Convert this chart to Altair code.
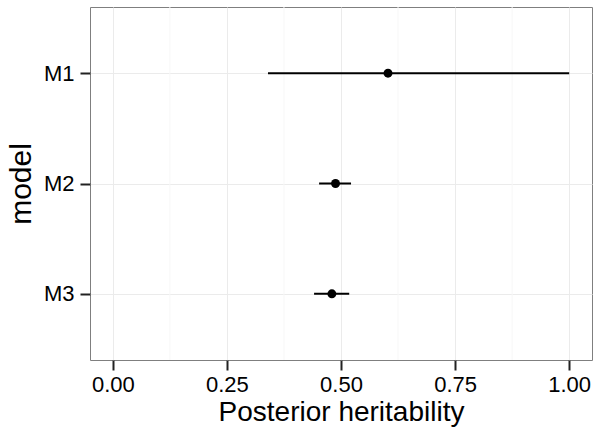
import altair as alt
import pandas as pd

# Posterior heritability estimates with credible intervals per model
models = ["M1", "M2", "M3"]
estimate = [0.603, 0.488, 0.480]
lower = [0.340, 0.452, 0.441]
upper = [1.000, 0.522, 0.518]

major_ticks = [0.0, 0.25, 0.5, 0.75, 1.0]
minor_ticks = [0.125, 0.375, 0.625, 0.875]

df = pd.DataFrame({"model": models, "estimate": estimate,
                   "lower": lower, "upper": upper})
minor_df = pd.DataFrame({"m": minor_ticks})

FONT = "Liberation Sans"

x_scale = alt.Scale(domain=[-0.05, 1.05], nice=False, zero=False)
y_scale = alt.Scale(type="point", padding=0.6, domain=models)
x_axis = alt.Axis(values=major_ticks, format=".2f", title="Posterior heritability")
y_axis = alt.Axis(title="model")

# faint minor grid lines between the major ticks
minor_grid = alt.Chart(minor_df).mark_rule(color="#F7F7F7", strokeWidth=1).encode(
    x=alt.X("m:Q", scale=x_scale, axis=x_axis)
)

intervals = alt.Chart(df).mark_rule(color="black", strokeWidth=2).encode(
    x=alt.X("lower:Q", scale=x_scale, axis=x_axis),
    x2="upper:Q",
    y=alt.Y("model:N", scale=y_scale, axis=y_axis),
)

points = alt.Chart(df).mark_circle(color="black", opacity=1, size=80).encode(
    x=alt.X("estimate:Q", scale=x_scale, axis=x_axis),
    y=alt.Y("model:N", scale=y_scale, axis=y_axis),
)

chart = (
    alt.layer(minor_grid, intervals, points)
    .properties(
        width=502,
        height=353,
        autosize=alt.AutoSizeParams(type="none"),
        padding={"left": 90, "top": 7, "right": 2, "bottom": 72},
    )
    .configure_view(stroke="#7F7F7F", strokeWidth=1)
    .configure_axis(
        labelFont=FONT,
        titleFont=FONT,
        labelFontSize=22,
        titleFontWeight="normal",
        labelColor="black",
        titleColor="black",
        domain=False,
        tickColor="#222222",
        tickSize=10,
        tickWidth=2,
        gridColor="#EBEBEB",
        gridWidth=1,
        grid=True,
    )
    .configure_axisX(titleFontSize=28, labelPadding=4, titlePadding=3)
    .configure_axisY(titleFontSize=30, labelPadding=6, titlePadding=7)
)

chart.save("out.html", embed_options={"renderer": "svg", "actions": False})
